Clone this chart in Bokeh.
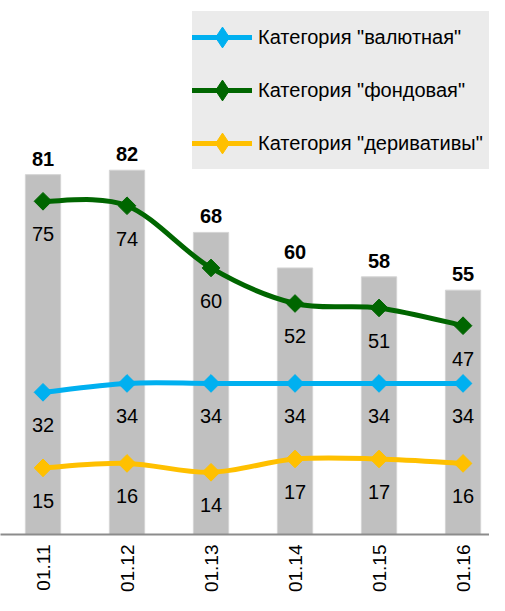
import math
from bokeh.plotting import figure
from bokeh.models import Range1d, FixedTicker, Legend, LegendItem, ColumnDataSource
from bokeh.core.properties import value
from bokeh.embed import file_html
from bokeh.resources import INLINE

categories = ["01.11", "01.12", "01.13", "01.14", "01.15", "01.16"]
totals = [81, 82, 68, 60, 58, 55]
fx_vals = [32, 34, 34, 34, 34, 34]          # валютная
stock_vals = [75, 74, 60, 52, 51, 47]       # фондовая
deriv_vals = [15, 16, 14, 17, 17, 16]       # деривативы
series_names = ['Категория "валютная"', 'Категория "фондовая"', 'Категория "деривативы"']
series_colors = ["#00b0f0", "#006600", "#ffc000"]

FONT = "Liberation Sans"
xs = list(range(len(categories)))

p = figure(width=489, height=595, output_backend="svg", toolbar_location=None,
           x_range=Range1d(-0.506, 5.315), y_range=Range1d(0, 120.2),
           y_axis_location=None, min_border=0)
p.outline_line_color = None
p.xgrid.visible = False
p.ygrid.visible = False
p.background_fill_color = "white"

# axis
ax = p.xaxis[0]
ax.ticker = FixedTicker(ticks=xs)
ax.major_label_overrides = {i: c for i, c in enumerate(categories)}
ax.major_label_orientation = math.pi / 2
ax.major_label_text_font = FONT
ax.major_label_text_font_size = "19px"
ax.major_label_text_color = "black"
ax.major_tick_line_color = None
ax.major_tick_out = 0
ax.major_tick_in = 0
ax.minor_tick_line_color = None
ax.major_label_standoff = 10
ax.axis_line_color = "#8c8c8c"
ax.axis_line_width = 2

# bars
p.vbar(x=xs, top=totals, width=0.42, fill_color="#c0c0c0", line_color="#d4d4d4", line_width=1)
p.text(x=xs, y=totals, text=[str(v) for v in totals], text_align="center",
       text_baseline="alphabetic", y_offset=-16, text_font=value(FONT),
       text_font_size="20px", text_font_style="bold", text_color="black")


def smooth(vals):
    pts = list(zip(xs, vals))
    n = len(pts)
    out = {k: [] for k in ("x0", "y0", "x1", "y1", "cx0", "cy0", "cx1", "cy1")}
    for i in range(n - 1):
        a = pts[i - 1] if i > 0 else pts[i]
        b = pts[i]
        c = pts[i + 1]
        d = pts[i + 2] if i + 2 < n else pts[i + 1]
        out["x0"].append(b[0]); out["y0"].append(b[1])
        out["x1"].append(c[0]); out["y1"].append(c[1])
        out["cx0"].append(b[0] + (c[0] - a[0]) / 6); out["cy0"].append(b[1] + (c[1] - a[1]) / 6)
        out["cx1"].append(c[0] - (d[0] - b[0]) / 6); out["cy1"].append(c[1] - (d[1] - b[1]) / 6)
    return ColumnDataSource(out)


legend_items = []
for vals, name, col in zip([fx_vals, stock_vals, deriv_vals], series_names, series_colors):
    src = smooth(vals)
    p.bezier(x0="x0", y0="y0", x1="x1", y1="y1", cx0="cx0", cy0="cy0", cx1="cx1", cy1="cy1",
             source=src, line_color=col, line_width=5, line_cap="round")
    p.scatter(x=xs, y=vals, marker="square", angle=math.pi / 4, size=12.5,
              fill_color=col, line_color=col)
    p.text(x=xs, y=vals, text=[str(v) for v in vals], text_align="center",
           text_baseline="top", y_offset=26, text_font=value(FONT),
           text_font_size="20px", text_color="black")
    # legend key glyphs (placeholder point, used only for the key)
    lr = p.line(x=[float("nan")], y=[float("nan")], line_color=col, line_width=5, line_cap="round")
    lm = p.scatter(x=[float("nan")], y=[float("nan")], marker="diamond", size=11,
                   fill_color=col, line_color=col)
    legend_items.append(LegendItem(label=name, renderers=[lr, lm]))

legend = Legend(items=legend_items, location=(192, 365), orientation="vertical",
                background_fill_color="#ebebeb", background_fill_alpha=1.0,
                border_line_color=None, padding=0, spacing=1,
                label_height=52, glyph_height=52, glyph_width=60, label_standoff=6,
                label_width=260,
                label_text_font=FONT, label_text_font_size="20px", label_text_color="black",
                margin=0)
p.add_layout(legend, "center")

open("out.html", "w").write(file_html(p, INLINE))
